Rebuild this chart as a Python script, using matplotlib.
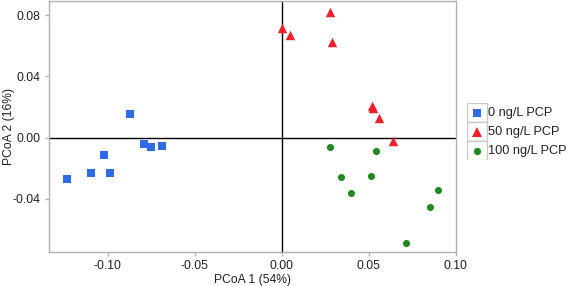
import matplotlib
matplotlib.use("Agg")
import matplotlib.pyplot as plt
from matplotlib.patches import Rectangle

plt.rcParams['font.family'] = ['Liberation Sans', 'DejaVu Sans']

# PCoA scores
x_0 = [-0.087, -0.0793, -0.0751, -0.0686, -0.102, -0.1098, -0.0987, -0.1234]
y_0 = [0.0154, -0.0044, -0.0059, -0.0057, -0.0115, -0.0231, -0.0233, -0.0270]

x_50 = [0.0002, 0.0046, 0.0278, 0.0287, 0.0517, 0.0523, 0.0559, 0.0640]
y_50 = [0.0720, 0.0669, 0.0821, 0.0623, 0.0206, 0.0195, 0.0130, -0.0022]

x_100 = [0.0279, 0.0544, 0.0339, 0.0515, 0.0397, 0.0898, 0.0854, 0.0716]
y_100 = [-0.0061, -0.0085, -0.0254, -0.0248, -0.0361, -0.0341, -0.0452, -0.0687]

labels = ["0 ng/L PCP", "50 ng/L PCP", "100 ng/L PCP"]
xticks = [-0.10, -0.05, 0.00, 0.05, 0.10]
yticks = [-0.04, 0.00, 0.04, 0.08]

blue = "#2f6be8"
red = "#f0202a"
green = "#1f8a1f"
grey = "#b0b0b0"
txt = "#222222"
fs = 8.7

fig = plt.figure(figsize=(5.67, 2.86), dpi=100)
ax = fig.add_axes([0.0864, 0.119, 0.7178, 0.879])

ax.axhline(0, color="black", lw=1, zorder=1)
ax.axvline(0, color="black", lw=1, zorder=1)

ax.scatter(x_0, y_0, marker="s", s=28, color=blue, zorder=3, linewidths=0)
ax.scatter(x_50, y_50, marker="^", s=46, color=red, zorder=3, linewidths=0)
ax.scatter(x_100, y_100, marker="o", s=26, color=green, zorder=3, linewidths=0)

ax.set_xlim(-0.1337, 0.1002)
ax.set_ylim(-0.0747, 0.0896)
ax.set_xticks(xticks)
ax.set_xticklabels(["%.2f" % v for v in xticks])
ax.set_yticks(yticks)
ax.set_yticklabels(["%.2f" % v for v in yticks])

for s in ax.spines.values():
    s.set_color(grey)
    s.set_linewidth(1)
ax.tick_params(colors=grey, length=3, width=1, labelsize=fs, labelcolor=txt, pad=3)

ax.set_xlabel("PCoA 1 (54%)", fontsize=fs, color=txt, labelpad=1)
ax.set_ylabel("PCoA 2 (16%)", fontsize=fs, color=txt)
ax.yaxis.set_label_coords(-0.084, 0.5)

# legend drawn as ggplot-like key boxes
lax = fig.add_axes([467 / 567, 1 - 160 / 286, 100 / 567, 57 / 286])
lax.set_xlim(0, 100)
lax.set_ylim(57, 0)
lax.axis("off")
keys = [("s", blue, 5.5), ("^", red, 7), ("o", green, 5.2)]
for i, (lab, (mk, col, ms)) in enumerate(zip(labels, keys)):
    y0 = i * 19
    lax.add_patch(Rectangle((0, y0), 20, 19, facecolor="white", edgecolor="#c8c8c8", lw=1))
    lax.plot(10, y0 + 9.5, marker=mk, color=col, markersize=ms, markeredgewidth=0, linestyle="none")
    lax.text(21.5, y0 + 9.8, lab, fontsize=9.2, color=txt, va="center", ha="left")

fig.savefig("out.png", dpi=100)
